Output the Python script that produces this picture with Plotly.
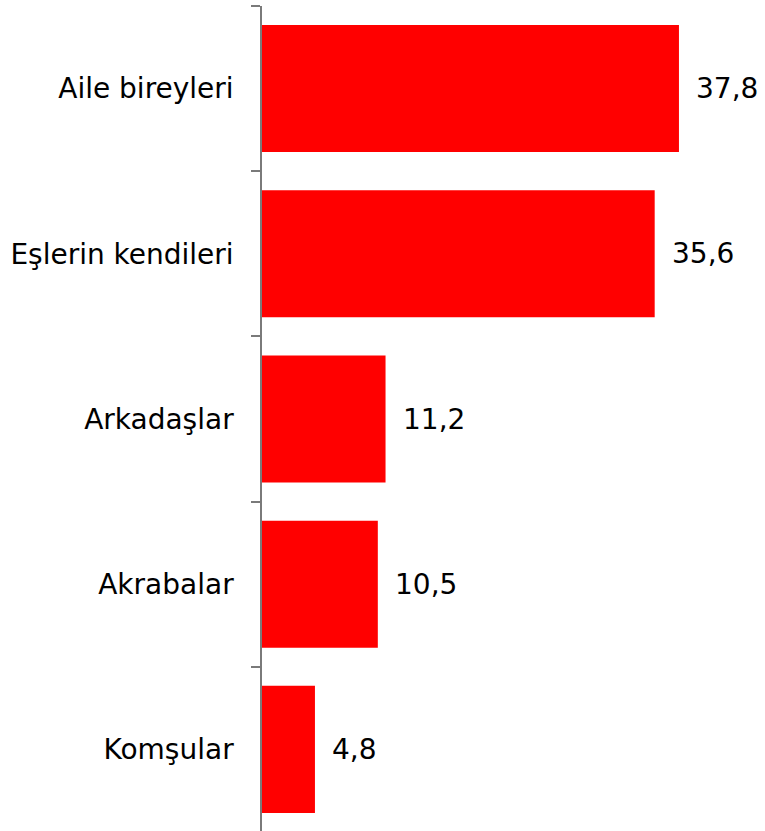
import plotly.graph_objects as go

categories = ["Aile bireyleri", "Eşlerin kendileri", "Arkadaşlar", "Akrabalar", "Komşular"]
values = [37.8, 35.6, 11.2, 10.5, 4.8]
labels = [f"{v:.1f}".replace(".", ",") for v in values]

fig = go.Figure()
fig.add_trace(go.Bar(
    x=values, y=categories, orientation="h",
    marker=dict(color="#FF0000", line=dict(width=0)),
    hoverinfo="skip",
))
for c, v, t in zip(categories, values, labels):
    fig.add_annotation(x=v, y=c, text=t, showarrow=False, xanchor="left",
                       xshift=15, font=dict(family="DejaVu Sans", size=28, color="black"))

fig.update_layout(
    width=765, height=831,
    margin=dict(l=262, r=0, t=6, b=0),
    paper_bgcolor="white", plot_bgcolor="white",
    bargap=0.231,
    showlegend=False,
    font=dict(family="DejaVu Sans", size=28, color="black"),
)
fig.update_xaxes(range=[0, 45.6], visible=False, showgrid=False, zeroline=False)
fig.update_yaxes(
    categoryorder="array", categoryarray=categories,
    range=[4.494, -0.5],
    showline=True, linecolor="#7a7a7a", linewidth=1.5,
    ticks="outside", ticklen=9, tickcolor="#7a7a7a", tickwidth=1.5,
    tickson="boundaries", ticklabelstandoff=21,
    showgrid=False, zeroline=False,
    tickfont=dict(family="DejaVu Sans", size=28, color="black"),
)

fig.write_html("out.html", config={"displayModeBar": False},
               post_script="document.body.style.margin='0';document.body.style.overflow='hidden';")
